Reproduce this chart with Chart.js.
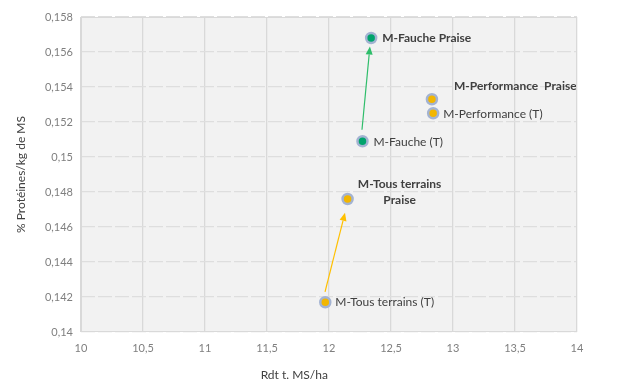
<!DOCTYPE html>
<html><head><meta charset="utf-8">
<script src="https://cdn.jsdelivr.net/npm/chart.js@4/dist/chart.umd.min.js"></script>
<style>html,body{margin:0;padding:0;background:#fff}#w{width:638px;height:388px}</style>
</head><body><div id="w"><canvas id="c"></canvas></div>
<script>
// ---- data ----
const pointNames = ["M-Fauche Praise","M-Fauche (T)","M-Performance  Praise","M-Performance (T)","M-Tous terrains\nPraise","M-Tous terrains (T)"];
const rendement  = [12.34, 12.27, 12.83, 12.84, 12.15, 11.97];   // Rdt t. MS/ha
const proteines  = [0.1568, 0.1509, 0.1533, 0.1525, 0.1476, 0.1417]; // % Protéines/kg de MS
const groups     = ["Fauche","Fauche","Performance","Performance","Tous","Tous"];
const arrowFrom  = [[12.266, 0.15156],[11.968, 0.14229]];
const arrowTo    = [[12.33, 0.15631],[12.129, 0.14681]];
const xTickLabels = ["10","10,5","11","11,5","12","12,5","13","13,5","14"];
const yTickLabels = ["0,14","0,142","0,144","0,146","0,148","0,15","0,152","0,154","0,156","0,158"];

// ---- styles ----
const groupColor = {Fauche:"#00a36c", Performance:"#f2b600", Tous:"#f2b600"};
const arrowColor = ["#2ebd6a","#ffc000"];
const labelStyle = [
  {dx:11, dy:0, bold:true, align:"left"},
  {dx:11, dy:1, bold:false, align:"left"},
  {dx:22, dy:-13, bold:true, align:"left"},
  {dx:10, dy:1, bold:false, align:"left"},
  {dx:52, dy:-7, bold:true, align:"center"},
  {dx:10, dy:0, bold:false, align:"left"}
];
const FONT = "Lato, 'Open Sans', sans-serif";

const bgPlugin = {
  id:"bg",
  beforeDraw(chart){
    const {ctx, chartArea:a} = chart;
    ctx.save();
    ctx.fillStyle="#f2f2f2";
    ctx.fillRect(a.left,a.top,a.right-a.left,a.bottom-a.top);
    ctx.restore();
  },
  afterDraw(chart){
    const {ctx, chartArea:a} = chart;
    ctx.save();
    ctx.strokeStyle="#d9d9d9"; ctx.lineWidth=1;
    ctx.strokeRect(a.left+0.5,a.top+0.5,a.right-a.left-1,a.bottom-a.top-1);
    ctx.fillStyle="#404040"; ctx.font="12px "+FONT; ctx.textAlign="center"; ctx.textBaseline="middle";
    ctx.fillText("Rdt t. MS/ha", a.left + (a.right-a.left)*0.43, 375);
    ctx.restore();
  },
  afterDatasetsDraw(chart){
    const {ctx, scales:{x,y}} = chart;
    ctx.save();
    arrowFrom.forEach((f,i)=>{
      const x1=x.getPixelForValue(f[0]), y1=y.getPixelForValue(f[1]);
      const x2=x.getPixelForValue(arrowTo[i][0]), y2=y.getPixelForValue(arrowTo[i][1]);
      const ang=Math.atan2(y2-y1,x2-x1), L=8, W=3.5;
      const bx=x2-L*Math.cos(ang), by=y2-L*Math.sin(ang);
      ctx.strokeStyle=arrowColor[i]; ctx.fillStyle=arrowColor[i]; ctx.lineWidth=1.2;
      ctx.beginPath(); ctx.moveTo(x1,y1); ctx.lineTo(bx,by); ctx.stroke();
      ctx.beginPath(); ctx.moveTo(x2,y2);
      ctx.lineTo(bx+W*Math.sin(ang), by-W*Math.cos(ang));
      ctx.lineTo(bx-W*Math.sin(ang), by+W*Math.cos(ang));
      ctx.closePath(); ctx.fill();
    });
    pointNames.forEach((name,i)=>{
      const px=x.getPixelForValue(rendement[i]), py=y.getPixelForValue(proteines[i]);
      const s=labelStyle[i];
      ctx.font=(s.bold?"bold ":"")+"12px "+FONT;
      ctx.fillStyle="#404040"; ctx.textAlign=s.align; ctx.textBaseline="middle";
      const lines=name.split("\n");
      const lh=16, y0=py+s.dy-(lines.length-1)*lh/2;
      lines.forEach((ln,k)=>ctx.fillText(ln, px+s.dx, y0+k*lh));
    });
    ctx.restore();
  }
};

new Chart(document.getElementById("c"), {
  type:"scatter",
  data:{ datasets:[{
    data: rendement.map((v,i)=>({x:v, y:proteines[i]})),
    pointRadius:5,
    pointHoverRadius:5,
    pointBackgroundColor: groups.map(g=>groupColor[g]),
    pointBorderColor:"#a3b3d2",
    pointBorderWidth:2.5
  }]},
  options:{
    responsive:true, maintainAspectRatio:false, animation:false,
    layout:{padding:{top:17, right:61, left:10, bottom:0}},
    plugins:{legend:{display:false}, tooltip:{enabled:false}},
    scales:{
      x:{
        type:"linear", min:10, max:14,
        afterFit(s){ s.height=56; },
        afterBuildTicks(s){ s.ticks = xTickLabels.map((_,i)=>({value:10+i*0.5})); },
        ticks:{ callback:(v,i)=>xTickLabels[i], color:"#7f7f7f", font:{family:FONT,size:11}, padding:10, maxRotation:0, autoSkip:false },
        grid:{ color:"#d9d9d9", lineWidth:1.3, drawTicks:false },
        border:{ display:false }
      },
      y:{
        type:"linear", min:0.14, max:0.158,
        afterFit(s){ s.width=71; },
        afterBuildTicks(s){ s.ticks = yTickLabels.map((_,i)=>({value:0.14+i*0.002})); },
        ticks:{ callback:(v,i)=>yTickLabels[i], color:"#7f7f7f", font:{family:FONT,size:11}, padding:8, autoSkip:false },
        grid:{ color:"#dedede", lineWidth:1.3, drawTicks:false },
        border:{ display:false, dash:[14,3] },
        title:{ display:true, text:"% Protéines/kg de MS", color:"#404040", font:{family:FONT,size:12}, padding:{top:4,bottom:4} }
      }
    }
  },
  plugins:[bgPlugin]
});
</script>
</body></html>
